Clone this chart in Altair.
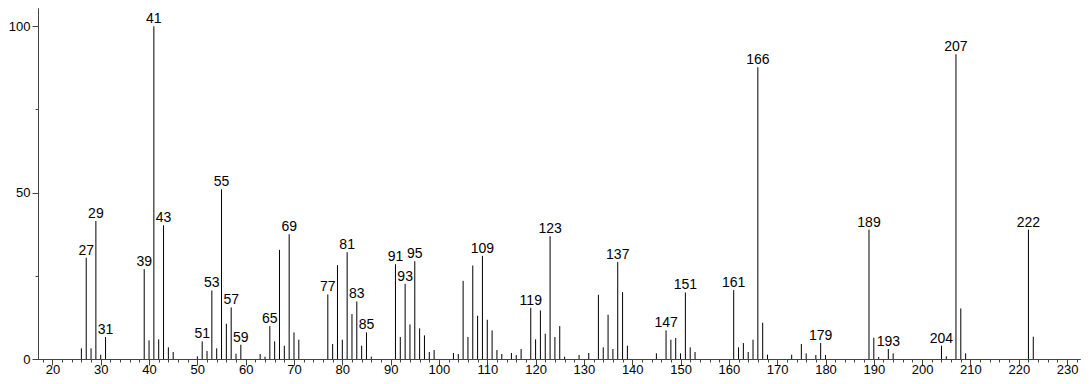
import altair as alt
import pandas as pd

# m/z values and relative intensities
mz = [26, 27, 28, 29, 30, 31,
      39, 40, 41, 42, 43, 44, 45,
      50, 51, 52, 53, 54, 55, 56, 57, 58, 59,
      63, 64, 65, 66, 67, 68, 69, 70, 71,
      77, 78, 79, 80, 81, 82, 83, 84, 85, 86,
      91, 92, 93, 94, 95, 96, 97, 98, 99,
      103, 104, 105, 106, 107, 108, 109, 110, 111, 112, 113, 115, 116, 117,
      119, 120, 121, 122, 123, 124, 125, 126, 129, 131,
      133, 134, 135, 136, 137, 138, 139,
      145, 147, 148, 149, 150, 151, 152, 153,
      161, 162, 163, 164, 165, 166, 167, 168,
      173, 175, 176, 178, 179, 180,
      189, 190, 191, 193, 194,
      204, 205, 207, 208, 209,
      222, 223]
intensity = [3.2, 30.4, 3.2, 41.5, 1.3, 6.6,
             27.0, 5.6, 100.0, 5.9, 40.2, 3.5, 2.1,
             0.8, 5.3, 2.4, 20.6, 3.2, 51.0, 10.6, 15.5, 1.6, 4.3,
             1.5, 0.7, 9.9, 5.3, 32.8, 4.0, 37.5, 8.0, 5.8,
             19.4, 4.5, 28.2, 5.8, 32.1, 13.5, 17.3, 4.0, 8.0, 0.7,
             28.5, 6.6, 22.6, 10.4, 29.4, 9.2, 7.1, 2.1, 2.7,
             1.8, 1.5, 23.5, 6.6, 28.1, 13.0, 31.0, 11.8, 8.6, 2.7, 1.5, 1.8, 1.2, 3.0,
             15.4, 5.9, 14.6, 7.6, 36.9, 6.6, 9.9, 0.7, 1.2, 1.8,
             19.3, 3.5, 13.3, 3.0, 29.2, 20.1, 4.0,
             1.7, 8.6, 5.8, 6.3, 1.7, 20.0, 3.5, 2.1,
             20.7, 3.5, 4.8, 2.1, 5.8, 87.7, 10.9, 1.3,
             1.3, 4.5, 1.7, 1.2, 4.8, 1.2,
             38.9, 6.4, 0.6, 3.0, 1.7,
             4.0, 0.8, 91.6, 15.2, 1.7,
             38.9, 6.7]
labelled_mz = [27, 29, 31, 39, 41, 43, 51, 53, 55, 57, 59, 65, 69, 77, 81, 83, 85,
               91, 93, 95, 109, 119, 123, 137, 147, 151, 161, 166, 179, 189, 193,
               204, 207, 222]

x_major = list(range(20, 231, 10))
x_minor = list(range(18, 233, 2))
y_major = [0, 50, 100]
y_minor = [25, 75]

df = pd.DataFrame({"mz": mz, "intensity": intensity})
df["zero"] = 0
lab = df[df["mz"].isin(labelled_mz)].copy()
lab["label"] = lab["mz"].astype(str)

FONT = "Liberation Sans"
xscale = alt.Scale(domain=[17.02, 232.67], nice=False, zero=False)
yscale = alt.Scale(domain=[0, 105.5], nice=False)

common_axis = dict(grid=False, domainColor="#444", tickColor="#444", domainWidth=1,
                   tickWidth=1, labelColor="black", labelFont=FONT, labelFontSize=13,
                   title=None)

bars = alt.Chart(df).mark_rule(color="black", strokeWidth=1).encode(
    x=alt.X("mz:Q", scale=xscale,
            axis=alt.Axis(values=x_major, tickSize=6, labelPadding=8,
                          labelBaseline="alphabetic", orient="bottom",
                          labelFlush=False, labelOverlap=False, **common_axis)),
    y=alt.Y("intensity:Q", scale=yscale,
            axis=alt.Axis(values=y_major, tickSize=6, labelPadding=2, orient="left",
                          labelFlush=False, labelOverlap=False, **common_axis)),
    y2="zero:Q",
)

minor = alt.Chart(df).mark_rule(opacity=0).encode(
    x=alt.X("mz:Q", scale=xscale,
            axis=alt.Axis(values=x_minor, tickSize=3, labels=False, orient="bottom",
                          **common_axis)),
    y=alt.Y("intensity:Q", scale=yscale,
            axis=alt.Axis(values=y_minor, tickSize=3, labels=False, orient="left",
                          **common_axis)),
    y2="zero:Q",
)

texts = alt.Chart(lab).mark_text(baseline="alphabetic", dy=-3, fontSize=14, font=FONT,
                                 color="black").encode(
    x=alt.X("mz:Q", scale=xscale, axis=None),
    y=alt.Y("intensity:Q", scale=yscale, axis=None),
    text="label:N",
)

chart = alt.layer(bars, minor, texts).resolve_axis(
    x="independent", y="independent"
).properties(
    width=1042, height=351,
    autosize=alt.AutoSizeParams(type="none"),
    padding={"left": 30, "top": 0, "right": 4, "bottom": 17},
).configure_view(stroke=None)

chart.save("out.html", embed_options={"renderer": "svg", "actions": False})
